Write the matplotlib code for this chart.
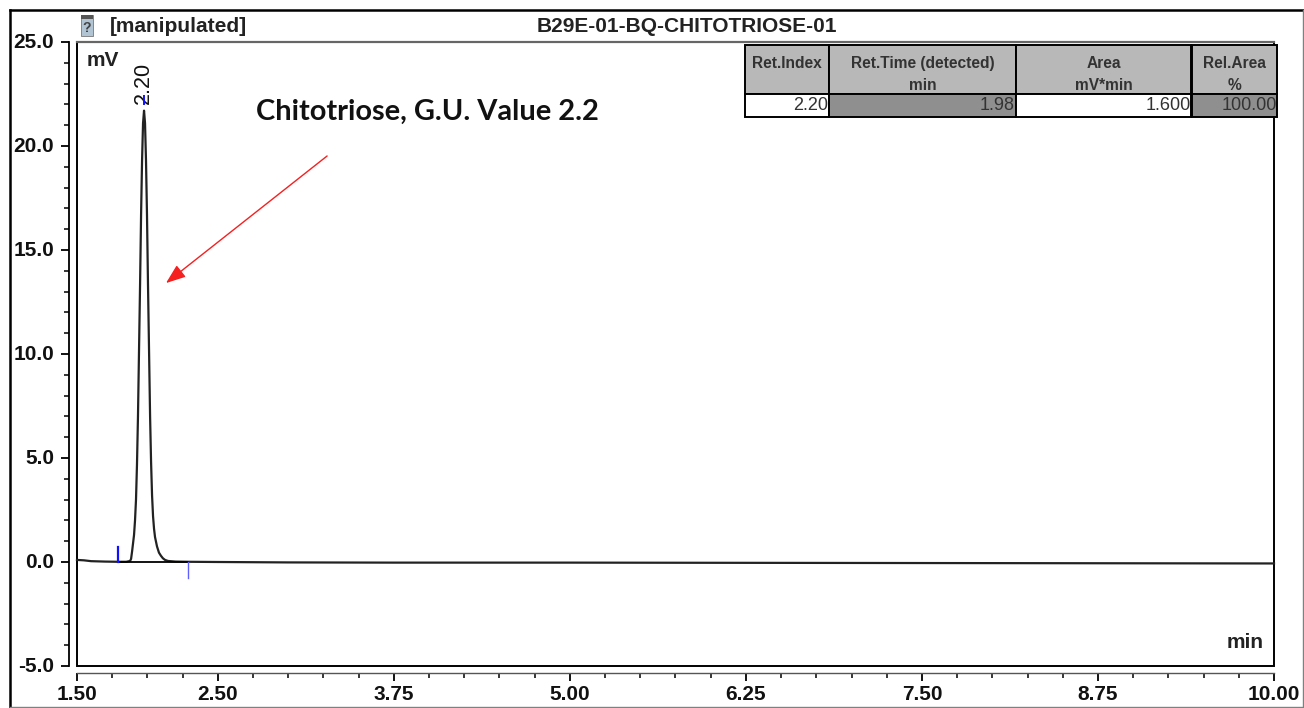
import matplotlib
matplotlib.use("Agg")
import matplotlib.pyplot as plt
from matplotlib.patches import Rectangle
from matplotlib.transforms import ScaledTranslation

# ---- data ----
time_min = [1.50, 1.55, 1.60, 1.70, 1.79, 1.85, 1.877, 1.884, 1.891, 1.898, 1.905, 1.912, 1.919, 1.926, 1.933,
            1.940, 1.948, 1.955, 1.962, 1.969, 1.976, 1.983, 1.990, 1.997, 2.004, 2.012, 2.019, 2.026,
            2.033, 2.040, 2.047, 2.054, 2.068, 2.082, 2.096, 2.110, 2.125, 2.146, 2.20, 2.29, 2.50,
            3.00, 3.75, 5.00, 6.25, 7.50, 8.75, 10.00]
signal_mv = [0.10, 0.08, 0.04, 0.02, 0.01, 0.01, 0.05, 0.15, 0.50, 0.90, 1.30, 2.00, 3.00, 4.70, 7.00,
             10.0, 13.4, 16.7, 19.3, 21.1, 21.7, 21.1, 19.3, 16.7, 13.4, 10.0, 7.00, 4.80,
             3.20, 2.20, 1.60, 1.20, 0.75, 0.45, 0.30, 0.18, 0.10, 0.05, 0.02, 0.01, 0.00,
             -0.02, -0.03, -0.03, -0.04, -0.05, -0.06, -0.07]
integration_start = 1.79
integration_end = 2.29
peak_time = 1.976
peak_label = "2.20"
x_major = [1.50, 2.50, 3.75, 5.00, 6.25, 7.50, 8.75, 10.00]
x_minor = [1.50 + 0.25 * i for i in range(35)]
y_major = [-5.0, 0.0, 5.0, 10.0, 15.0, 20.0, 25.0]
y_minor = list(range(-5, 26))
table_headers = ["Ret.Index\n ", "Ret.Time (detected)\nmin", "Area\nmV*min", "Rel.Area\n%"]
table_row = ["2.20", "1.98", "1.600", "100.00"]
title_left = "[manipulated]"
title_center = "B29E-01-BQ-CHITOTRIOSE-01"
note = "Chitotriose, G.U. Value 2.2"

W, H = 1304, 708
def fx(p): return p / W
def fy(p): return 1 - p / H

plt.rcParams["font.family"] = ["Liberation Sans", "DejaVu Sans"]
fig = plt.figure(figsize=(W / 100, H / 100), dpi=100, facecolor="white")

# outer frame
fig.add_artist(plt.Line2D([fx(9.5), fx(9.5)], [fy(10), fy(707)], color="black", lw=1.8))
fig.add_artist(plt.Line2D([fx(9.5), fx(1304)], [fy(10), fy(10)], color="black", lw=1.8))
fig.add_artist(plt.Line2D([fx(9.5), fx(1303)], [fy(706.7), fy(706.7)], color="#808080", lw=1.0))
fig.add_artist(plt.Line2D([fx(1302.5), fx(1302.5)], [fy(10), fy(707)], color="#808080", lw=1.0))

L, R, T, B = 77, 1274, 42, 666
ax = fig.add_axes([fx(L), fy(B), (R - L) / W, (B - T) / H])
ax.set_xlim(1.5, 10)
ax.set_ylim(-5, 25)

for s in ["top", "right"]:
    ax.spines[s].set_visible(False)
ax.spines["left"].set_position(("outward", 5.8))
ax.spines["left"].set_linewidth(1.3)
ax.spines["bottom"].set_position(("outward", 5.0))
ax.spines["bottom"].set_linewidth(1.0)
ax.spines["bottom"].set_color("#555555")

# plot frame
ax.add_patch(Rectangle((0, 0), 1, 1, transform=ax.transAxes, fill=False, ec="black", lw=1.4, clip_on=False, zorder=1))
ax.plot([0, 1], [1, 1], transform=ax.transAxes, color="#666666", lw=1.6, clip_on=False, zorder=2)

ax.set_xticks(x_major)
ax.set_xticklabels([f"{v:.2f}" for v in x_major])
ax.set_xticks(x_minor, minor=True)
ax.set_yticks(y_major)
ax.set_yticklabels([f"{v:.1f}" for v in y_major])
ax.set_yticks(y_minor, minor=True)
ax.tick_params(axis="x", which="major", length=6, width=1.3, pad=2.5, labelsize=15)
ax.tick_params(axis="x", which="minor", length=3.5, width=1.1)
ax.tick_params(axis="y", which="major", length=6, width=1.3, pad=4.5, labelsize=15)
ax.tick_params(axis="y", which="minor", length=3.5, width=1.1)
for lab in ax.get_xticklabels() + ax.get_yticklabels():
    lab.set_fontweight("bold")
    lab.set_color("#111111")
up = ScaledTranslation(0, 2 / 72 * 0.72, fig.dpi_scale_trans)
for lab in ax.get_yticklabels():
    lab.set_transform(lab.get_transform() + up)

# trace and baseline
ax.plot(time_min, signal_mv, color="#222222", lw=1.6, zorder=4, clip_on=False)
ax.plot([integration_start, integration_end], [0.0, 0.0], color="black", lw=1.3, zorder=4)

# integration markers
ax.plot([integration_start, integration_start], [0.0, 0.7], color="#1010ff", lw=1.6, zorder=5)
ax.plot([integration_end, integration_end], [0.0, -0.75], color="#6060ff", lw=1.0, zorder=5)
ax.text(peak_time - 0.005, 22.0, peak_label, rotation=90, ha="center", va="bottom", fontsize=15.5, color="#111111", zorder=5)
ax.plot([peak_time, peak_time], [22.0, 22.4], color="#1010ff", lw=1.4, zorder=6)

# axis unit labels
fig.text(fx(87), fy(61), "mV", ha="left", va="center", fontsize=15, fontweight="bold", color="#222222")
fig.text(fx(1227), fy(643), "min", ha="left", va="center", fontsize=15, fontweight="bold", color="#222222")

# header
fig.text(fx(110), fy(26), title_left, ha="left", va="center", fontsize=15, fontweight="bold", color="#222222")
fig.text(fx(687), fy(26), title_center, ha="center", va="center", fontsize=15, fontweight="bold", color="#222222")

# small icon in the header
fig.add_artist(Rectangle((fx(81), fy(36)), 12 / W, 21 / H, transform=fig.transFigure, fc="#b0c4d4", ec="#777777", lw=0.6))
fig.add_artist(Rectangle((fx(81), fy(19)), 12 / W, 4 / H, transform=fig.transFigure, fc="#555555", ec="none"))
fig.text(fx(87), fy(28), "?", ha="center", va="center", fontsize=10, fontweight="bold", color="#444444")

# annotation
ax.text(2.77, 21.65, note, family=["Lato", "DejaVu Sans"], fontweight="bold", fontsize=20.9, color="#111111", ha="left", va="center")
ax.annotate("", xy=(2.132, 13.41), xytext=(3.276, 19.52),
            arrowprops=dict(arrowstyle="-|>,head_length=1.2,head_width=0.45", color="#f52020", lw=1.0, shrinkA=0, shrinkB=0), zorder=6)

# results table
tx0, tx1, ty0, ty1 = 745, 1277, 44.5, 117
col_px = [84, 187, 175.5, 85.5]
bbox = [(tx0 - L) / (R - L), (B - ty1) / (B - T), (tx1 - tx0) / (R - L), (ty1 - ty0) / (B - T)]
tab = ax.table(cellText=[table_headers, table_row], colWidths=[c / (tx1 - tx0) for c in col_px], bbox=bbox, cellLoc="center", zorder=8)
tab.auto_set_font_size(False)
row_colors = ["white", "#8f8f8f", "white", "#8f8f8f"]
for c in range(4):
    h = tab[(0, c)]
    h.set_facecolor("#b8b8b8")
    h.set_edgecolor("black")
    h.set_linewidth(1.4)
    h.set_height(49.5)
    h.get_text().set(fontsize=11.2, fontweight="bold", color="#333333", ha="center", linespacing=1.6, va="center_baseline")
    r = tab[(1, c)]
    r.set_facecolor(row_colors[c])
    r.set_edgecolor("black")
    r.set_linewidth(1.4)
    r.set_height(23)
    r.PAD = 0.005
    r.set_text_props(ha="right")
    r.get_text().set(fontsize=13, color="#333333")

fig.savefig("out.png", dpi=100, facecolor="white")
